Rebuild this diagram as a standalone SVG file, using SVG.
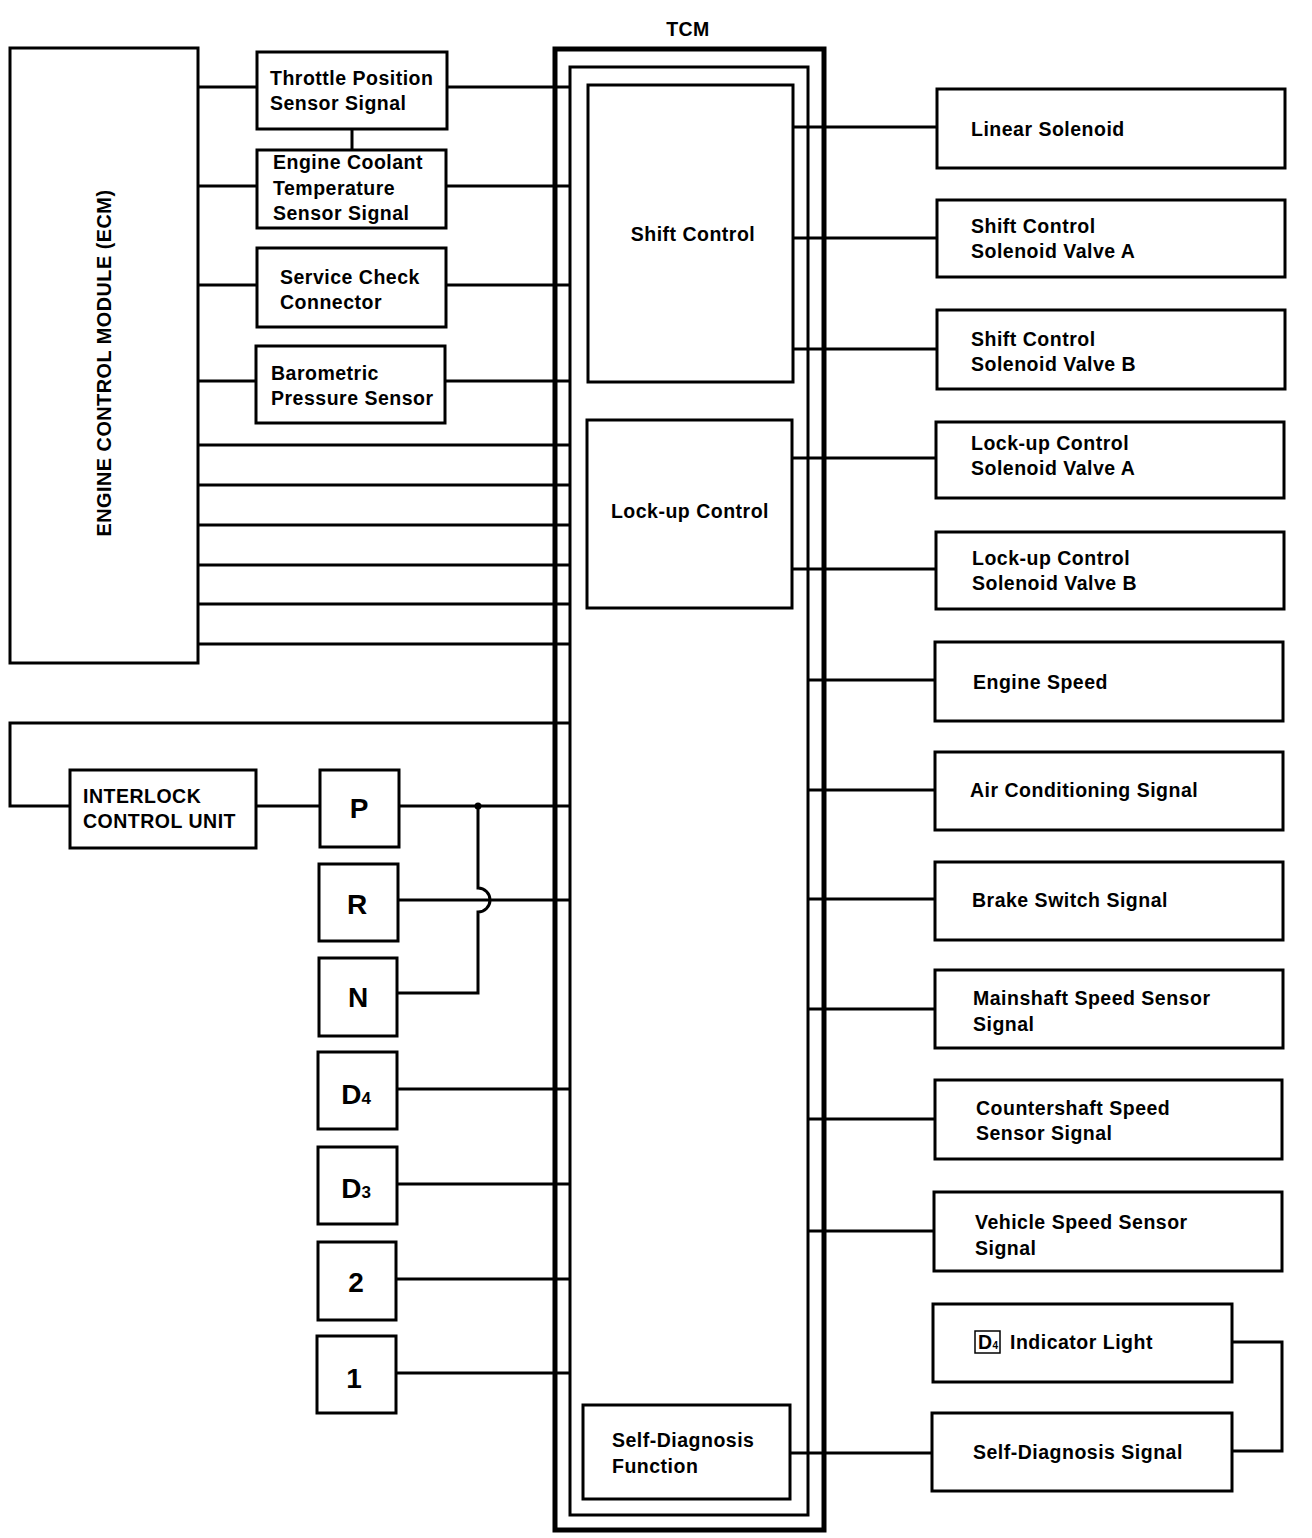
<svg xmlns="http://www.w3.org/2000/svg" width="1312" height="1538" viewBox="0 0 1312 1538">
<style>
.b{fill:#fff;stroke:#000;stroke-width:3}
.t{font-family:"Liberation Sans",Arial,sans-serif;font-weight:bold;font-size:19.5px;letter-spacing:0.5px;fill:#000}
.g{font-family:"Liberation Sans",Arial,sans-serif;font-weight:bold;font-size:28px;fill:#000;text-anchor:middle}
.w{fill:none;stroke:#000;stroke-width:3}
</style>
<rect width="1312" height="1538" fill="#fff"/>

<g id="connectors">
  <path class="w" d="M198,87H257M198,186H257M198,285H257M198,381H256"/>
  <path class="w" d="M352,129V150"/>
  <path class="w" d="M447,87H570M446,186H570M446,285H570M445,381H570"/>
  <path class="w" d="M198,445H570M198,485H570M198,525H570M198,565H570M198,604H570M198,644H570"/>
  <path class="w" d="M570,723H10V806H70"/>
  <path class="w" d="M256,806H320"/>
  <path class="w" d="M399,806H570M398,900H570M397,1089H570M397,1184H570M396,1279H570"/>
  <path class="w" d="M396,1373H570" stroke-width="4"/>
  <path class="w" d="M478,806V888A12,12 0 0 1 478,912V993H397"/>
  <circle cx="478" cy="806" r="3.5" fill="#000"/>
  <path class="w" d="M793,127H937M793,238H937M793,349H937M792,458H936M792,569H936"/>
  <path class="w" d="M808,680H935M808,790H935M808,899H935M808,1009H935M808,1119H935M808,1231H934"/>
  <path class="w" d="M790,1453H932"/>
  <path class="w" d="M1232,1342H1282V1451H1232"/>
</g>

<g id="tcm">
  <text class="t" x="688" y="36" text-anchor="middle" font-size="19" letter-spacing="0">TCM</text>
  <rect x="555" y="49" width="269" height="1481" fill="none" stroke="#000" stroke-width="5"/>
  <rect x="570" y="67" width="238" height="1448" fill="none" stroke="#000" stroke-width="3"/>
</g>

<g id="ecm">
  <rect class="b" x="10" y="48" width="188" height="615"/>
  <text class="t" transform="translate(111,363) rotate(-90)" text-anchor="middle" font-size="19" letter-spacing="0" textLength="347" lengthAdjust="spacingAndGlyphs">ENGINE CONTROL MODULE (ECM)</text>
</g>

<g id="throttle">
  <rect class="b" x="257" y="52" width="190" height="77"/>
  <text class="t" x="270" y="85">Throttle Position</text>
  <text class="t" x="270" y="110">Sensor Signal</text>
</g>
<g id="coolant">
  <rect class="b" x="257" y="150" width="189" height="78"/>
  <text class="t" x="273" y="169">Engine Coolant</text>
  <text class="t" x="273" y="195">Temperature</text>
  <text class="t" x="273" y="220">Sensor Signal</text>
</g>
<g id="service">
  <rect class="b" x="257" y="248" width="189" height="79"/>
  <text class="t" x="280" y="284">Service Check</text>
  <text class="t" x="280" y="309">Connector</text>
</g>
<g id="baro">
  <rect class="b" x="256" y="346" width="189" height="77"/>
  <text class="t" x="271" y="380">Barometric</text>
  <text class="t" x="271" y="405">Pressure Sensor</text>
</g>

<g id="shift-control">
  <rect class="b" x="588" y="85" width="205" height="297"/>
  <text class="t" x="693" y="241" text-anchor="middle">Shift Control</text>
</g>
<g id="lockup-control">
  <rect class="b" x="587" y="420" width="205" height="188"/>
  <text class="t" x="690" y="518" text-anchor="middle">Lock-up Control</text>
</g>
<g id="self-diag-function">
  <rect class="b" x="583" y="1405" width="207" height="94"/>
  <text class="t" x="612" y="1447">Self-Diagnosis</text>
  <text class="t" x="612" y="1473">Function</text>
</g>

<g id="interlock">
  <rect class="b" x="70" y="770" width="186" height="78"/>
  <text class="t" x="83" y="803" letter-spacing="0" font-size="19">INTERLOCK</text>
  <text class="t" x="83" y="828" letter-spacing="0" font-size="19">CONTROL UNIT</text>
</g>
<g id="pos-P"><rect class="b" x="320" y="770" width="79" height="77"/><text class="g" x="359" y="818">P</text></g>
<g id="pos-R"><rect class="b" x="319" y="864" width="79" height="77"/><text class="g" x="357" y="914">R</text></g>
<g id="pos-N"><rect class="b" x="319" y="958" width="78" height="78"/><text class="g" x="358" y="1007">N</text></g>
<g id="pos-D4"><rect class="b" x="318" y="1052" width="79" height="77"/><text class="g" x="356" y="1104">D<tspan font-size="17">4</tspan></text></g>
<g id="pos-D3"><rect class="b" x="318" y="1147" width="79" height="77"/><text class="g" x="356" y="1198">D<tspan font-size="17">3</tspan></text></g>
<g id="pos-2"><rect class="b" x="318" y="1242" width="78" height="78"/><text class="g" x="356" y="1292">2</text></g>
<g id="pos-1"><rect class="b" x="317" y="1336" width="79" height="77"/><text class="g" x="354" y="1388">1</text></g>

<g id="linear"><rect class="b" x="937" y="89" width="348" height="79"/><text class="t" x="971" y="136">Linear Solenoid</text></g>
<g id="scsa"><rect class="b" x="937" y="200" width="348" height="77"/><text class="t" x="971" y="233">Shift Control</text><text class="t" x="971" y="258">Solenoid Valve A</text></g>
<g id="scsb"><rect class="b" x="937" y="310" width="348" height="79"/><text class="t" x="971" y="346">Shift Control</text><text class="t" x="971" y="371">Solenoid Valve B</text></g>
<g id="lusa"><rect class="b" x="936" y="422" width="348" height="76"/><text class="t" x="971" y="450">Lock-up Control</text><text class="t" x="971" y="475">Solenoid Valve A</text></g>
<g id="lusb"><rect class="b" x="936" y="532" width="348" height="77"/><text class="t" x="972" y="565">Lock-up Control</text><text class="t" x="972" y="590">Solenoid Valve B</text></g>
<g id="engine-speed"><rect class="b" x="935" y="642" width="348" height="79"/><text class="t" x="973" y="689">Engine Speed</text></g>
<g id="ac"><rect class="b" x="935" y="752" width="348" height="78"/><text class="t" x="970" y="797">Air Conditioning Signal</text></g>
<g id="brake"><rect class="b" x="935" y="862" width="348" height="78"/><text class="t" x="972" y="907">Brake Switch Signal</text></g>
<g id="mainshaft"><rect class="b" x="935" y="970" width="348" height="78"/><text class="t" x="973" y="1005">Mainshaft Speed Sensor</text><text class="t" x="973" y="1031">Signal</text></g>
<g id="countershaft"><rect class="b" x="935" y="1080" width="347" height="79"/><text class="t" x="976" y="1115">Countershaft Speed</text><text class="t" x="976" y="1140">Sensor Signal</text></g>
<g id="vss"><rect class="b" x="934" y="1192" width="348" height="79"/><text class="t" x="975" y="1229">Vehicle Speed Sensor</text><text class="t" x="975" y="1255">Signal</text></g>
<g id="d4-light">
  <rect class="b" x="933" y="1304" width="299" height="78"/>
  <rect x="975" y="1331" width="25" height="22" fill="none" stroke="#000" stroke-width="1.5"/>
  <text class="t" x="978" y="1349" font-size="16" letter-spacing="0">D<tspan font-size="10">4</tspan></text>
  <text class="t" x="1010" y="1349">Indicator Light</text>
</g>
<g id="self-diag-signal"><rect class="b" x="932" y="1413" width="300" height="78"/><text class="t" x="973" y="1459">Self-Diagnosis Signal</text></g>
</svg>
